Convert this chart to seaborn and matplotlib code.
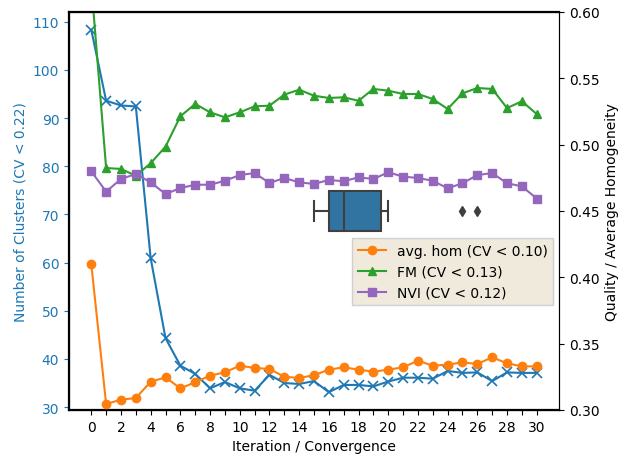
import numpy as np
import pandas as pd
import matplotlib
matplotlib.use("Agg")
import matplotlib.pyplot as plt
import seaborn as sns

iterations = list(range(31))
n_clusters = [108.3, 93.6, 92.6, 92.4, 60.9, 44.3, 38.6, 36.9, 33.9, 35.2, 33.9, 33.4,
              36.7, 35.0, 34.8, 35.4, 33.1, 34.6, 34.6, 34.3, 35.3, 36.1, 36.1, 35.9,
              37.5, 37.1, 37.2, 35.4, 37.2, 37.1, 37.1]
avg_hom = [0.410, 0.3045, 0.3078, 0.3090, 0.3213, 0.3246, 0.3163, 0.3209, 0.3259, 0.3284,
           0.3334, 0.3317, 0.3309, 0.3251, 0.3241, 0.3262, 0.3304, 0.3322, 0.3304, 0.3289,
           0.3304, 0.3322, 0.3372, 0.3334, 0.3342, 0.3359, 0.3347, 0.3397, 0.3352, 0.3329,
           0.3329]
fm = [0.621, 0.4824, 0.4817, 0.4766, 0.4860, 0.4985, 0.5214, 0.5307, 0.5244, 0.5206,
      0.5244, 0.5289, 0.5294, 0.5377, 0.5414, 0.5369, 0.5352, 0.5357, 0.5331, 0.5420,
      0.5407, 0.5382, 0.5382, 0.5344, 0.5269, 0.5387, 0.5427, 0.5420, 0.5276, 0.5327,
      0.5231]
nvi = [0.4799, 0.4646, 0.4741, 0.4779, 0.4716, 0.4628, 0.4673, 0.4698, 0.4698, 0.4728,
       0.4771, 0.4786, 0.4711, 0.4749, 0.4716, 0.4704, 0.4734, 0.4724, 0.4754, 0.4741,
       0.4792, 0.4759, 0.4749, 0.4728, 0.4671, 0.4709, 0.4771, 0.4786, 0.4709, 0.4686,
       0.4594]
convergence_iters = [15, 16, 16, 16, 17, 17, 18, 19, 20, 25, 26]

labels = ["avg. hom (CV < 0.10)", "FM (CV < 0.13)", "NVI (CV < 0.12)"]

fig = plt.figure(figsize=(6.35, 4.6), dpi=100)
ax1 = fig.add_axes([69/635, 1-411/460, 490/635, 398/460])
ax2 = ax1.twinx()
ax3 = ax1.twinx()

blue = "#1f77b4"
sns.lineplot(x=iterations, y=n_clusters, ax=ax1, color=blue, marker="x",
             markersize=7, markeredgecolor=blue, markeredgewidth=1.2, linewidth=1.5)

cols = ["#ff7f0e", "#2ca02c", "#9467bd"]
marks = ["o", "^", "s"]
for vals, lab, c, m in zip([avg_hom, fm, nvi], labels, cols, marks):
    sns.lineplot(x=iterations, y=vals, ax=ax2, color=c, marker=m, markersize=6,
                 markeredgecolor=c, markeredgewidth=1, linewidth=1.5, label=lab)

sns.boxplot(x=convergence_iters, ax=ax3, width=0.1, color=blue, saturation=0.75,
            linecolor="#3f3f3f", linewidth=1.5,
            flierprops=dict(marker="d", markerfacecolor="#3f3f3f",
                            markeredgecolor="#3f3f3f", markersize=5))
ax3.set_ylim(0.5, -0.5)
ax3.axis("off")

ax1.set_ylim(29.4, 112)
ax2.set_ylim(0.30, 0.60)
ax1.set_xlim(-1.5, 31.5)
ax1.set_xticks(iterations)
ax1.set_xticklabels([str(i) if i % 2 == 0 else "" for i in iterations])
ax1.set_xlabel("Iteration / Convergence")
ax1.set_ylabel("Number of Clusters (CV < 0.22)", color=blue)
ax1.tick_params(axis="y", colors=blue)
ax2.set_ylabel("Quality / Average Homogeneity")
for s in ["left", "bottom", "top"]:
    ax1.spines[s].set_linewidth(1.6)
ax1.spines["left"].set_color("black")

leg = ax2.legend(loc="upper right", bbox_to_anchor=(0.988, 0.432), borderaxespad=0,
                 fancybox=False, facecolor="#f0eadc", edgecolor="#d0d0d0", framealpha=1)

fig.savefig("out.png", dpi=100)
